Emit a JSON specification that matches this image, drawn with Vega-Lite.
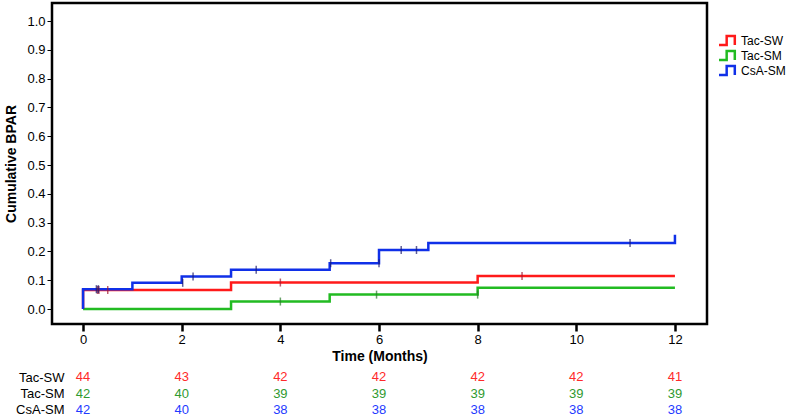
{
  "$schema": "https://vega.github.io/schema/vega-lite/v6.json",
  "padding": {"left": 3, "top": 1, "right": 0, "bottom": 0},
  "background": "white",
  "config": {
    "font": "Liberation Sans",
    "view": {"stroke": "black", "strokeWidth": 2.5},
    "axis": {"grid": false, "labelFont": "Liberation Sans", "titleFont": "Liberation Sans", "labelColor": "black", "titleColor": "black", "labelOverlap": false}
  },
  "datasets": {
    "curves": [
      {"group": "Tac-SM", "i": 0, "t": 0, "p": 0},
      {"group": "Tac-SM", "i": 1, "t": 3, "p": 0.026},
      {"group": "Tac-SM", "i": 2, "t": 5, "p": 0.05},
      {"group": "Tac-SM", "i": 3, "t": 8, "p": 0.074},
      {"group": "Tac-SM", "i": 4, "t": 12, "p": 0.074},
      {"group": "Tac-SW", "i": 0, "t": 0, "p": 0},
      {"group": "Tac-SW", "i": 1, "t": 0, "p": 0.066},
      {"group": "Tac-SW", "i": 2, "t": 3, "p": 0.092},
      {"group": "Tac-SW", "i": 3, "t": 8, "p": 0.115},
      {"group": "Tac-SW", "i": 4, "t": 12, "p": 0.115},
      {"group": "CsA-SM", "i": 0, "t": 0, "p": 0},
      {"group": "CsA-SM", "i": 1, "t": 0, "p": 0.069},
      {"group": "CsA-SM", "i": 2, "t": 1, "p": 0.091},
      {"group": "CsA-SM", "i": 3, "t": 2, "p": 0.113},
      {"group": "CsA-SM", "i": 4, "t": 3, "p": 0.136},
      {"group": "CsA-SM", "i": 5, "t": 5, "p": 0.159},
      {"group": "CsA-SM", "i": 6, "t": 6, "p": 0.205},
      {"group": "CsA-SM", "i": 7, "t": 7, "p": 0.229},
      {"group": "CsA-SM", "i": 8, "t": 12, "p": 0.258}
    ],
    "censor": [
      {"group": "Tac-SW", "t": 0.29, "p": 0.066},
      {"group": "Tac-SW", "t": 0.32, "p": 0.066},
      {"group": "Tac-SW", "t": 0.5, "p": 0.066},
      {"group": "Tac-SW", "t": 4.0, "p": 0.092},
      {"group": "Tac-SW", "t": 8.9, "p": 0.115},
      {"group": "Tac-SM", "t": 4.0, "p": 0.026},
      {"group": "Tac-SM", "t": 5.95, "p": 0.05},
      {"group": "Tac-SM", "t": 8.0, "p": 0.05},
      {"group": "CsA-SM", "t": 0.27, "p": 0.069},
      {"group": "CsA-SM", "t": 0.31, "p": 0.069},
      {"group": "CsA-SM", "t": 2.02, "p": 0.091},
      {"group": "CsA-SM", "t": 2.23, "p": 0.113},
      {"group": "CsA-SM", "t": 3.51, "p": 0.136},
      {"group": "CsA-SM", "t": 5.02, "p": 0.159},
      {"group": "CsA-SM", "t": 6.0, "p": 0.159},
      {"group": "CsA-SM", "t": 6.45, "p": 0.205},
      {"group": "CsA-SM", "t": 6.76, "p": 0.205},
      {"group": "CsA-SM", "t": 11.09, "p": 0.229}
    ],
    "risk": [
      {"group": "Tac-SW", "t": 0, "n": 44}, {"group": "Tac-SW", "t": 2, "n": 43}, {"group": "Tac-SW", "t": 4, "n": 42}, {"group": "Tac-SW", "t": 6, "n": 42}, {"group": "Tac-SW", "t": 8, "n": 42}, {"group": "Tac-SW", "t": 10, "n": 42}, {"group": "Tac-SW", "t": 12, "n": 41},
      {"group": "Tac-SM", "t": 0, "n": 42}, {"group": "Tac-SM", "t": 2, "n": 40}, {"group": "Tac-SM", "t": 4, "n": 39}, {"group": "Tac-SM", "t": 6, "n": 39}, {"group": "Tac-SM", "t": 8, "n": 39}, {"group": "Tac-SM", "t": 10, "n": 39}, {"group": "Tac-SM", "t": 12, "n": 39},
      {"group": "CsA-SM", "t": 0, "n": 42}, {"group": "CsA-SM", "t": 2, "n": 40}, {"group": "CsA-SM", "t": 4, "n": 38}, {"group": "CsA-SM", "t": 6, "n": 38}, {"group": "CsA-SM", "t": 8, "n": 38}, {"group": "CsA-SM", "t": 10, "n": 38}, {"group": "CsA-SM", "t": 12, "n": 38}
    ]
  },
  "spacing": 4,
  "resolve": {"scale": {"color": "independent"}},
  "vconcat": [
    {
      "width": 655,
      "height": 321,
      "resolve": {"scale": {"color": "independent"}},
      "encoding": {
        "x": {"field": "t", "type": "quantitative",
          "scale": {"domain": [-0.63, 12.65], "nice": false, "zero": false},
          "axis": {"values": [0, 2, 4, 6, 8, 10, 12], "domain": false, "tickColor": "black", "tickWidth": 2.5, "tickSize": 7, "labelFontSize": 13, "labelPadding": 2, "title": "Time (Months)", "titleFontSize": 14, "titleFontWeight": "bold", "titlePadding": 3}},
        "y": {"field": "p", "type": "quantitative",
          "scale": {"domain": [-0.052, 1.0625], "nice": false, "zero": false},
          "axis": {"values": [0, 0.1, 0.2, 0.3, 0.4, 0.5, 0.6, 0.7, 0.8, 0.9, 1.0], "format": ".1f", "domain": false, "tickColor": "black", "tickWidth": 1, "tickSize": 5, "labelFontSize": 13, "labelPadding": 2, "title": "Cumulative BPAR", "titleFontSize": 14, "titleFontWeight": "bold", "titlePadding": 8}}
      },
      "layer": [
        {
          "data": {"name": "curves"},
          "mark": {"type": "line", "interpolate": "step-after", "strokeWidth": 2.5},
          "encoding": {
            "color": {"field": "group", "type": "nominal",
              "scale": {"domain": ["Tac-SW", "Tac-SM", "CsA-SM"], "range": ["#ff1a1a", "#22bb22", "#1030e8"]},
              "legend": {"title": null, "orient": "none", "legendX": 667, "legendY": 31, "symbolType": "M-1.3,0.7H-0.05V-0.7H1.2V0.7", "symbolSize": 169, "symbolStrokeWidth": 2.5, "symbolFillColor": "transparent", "labelFontSize": 12, "labelColor": "black", "labelOffset": 6, "rowPadding": 2, "clipHeight": 13}},
            "order": {"field": "i", "type": "quantitative"},
            "detail": {"field": "group"}
          }
        },
        {
          "data": {"name": "censor"},
          "mark": {"type": "tick", "orient": "vertical", "size": 8, "thickness": 1.5},
          "encoding": {
            "color": {"field": "group", "type": "nominal",
              "scale": {"domain": ["Tac-SW", "Tac-SM", "CsA-SM"], "range": ["#a01830", "#2a7a2a", "#1a1a70"]},
              "legend": null}
          }
        }
      ]
    },
    {
      "width": 655,
      "height": 49,
      "view": {"stroke": null},
      "data": {"name": "risk"},
      "mark": {"type": "text", "fontSize": 13, "font": "Liberation Sans"},
      "encoding": {
        "x": {"field": "t", "type": "quantitative", "scale": {"domain": [-0.63, 12.65], "nice": false, "zero": false}, "axis": null},
        "y": {"field": "group", "type": "nominal", "sort": ["Tac-SW", "Tac-SM", "CsA-SM"], "scale": {"paddingInner": 0, "paddingOuter": 0},
          "axis": {"title": null, "domain": false, "ticks": false, "labelFontSize": 13, "labelPadding": -12, "labelColor": "black"}},
        "text": {"field": "n", "type": "quantitative"},
        "color": {"field": "group", "type": "nominal",
          "scale": {"domain": ["Tac-SW", "Tac-SM", "CsA-SM"], "range": ["#ff2a2a", "#2f9a2f", "#1f3bff"]},
          "legend": null}
      }
    }
  ]
}
